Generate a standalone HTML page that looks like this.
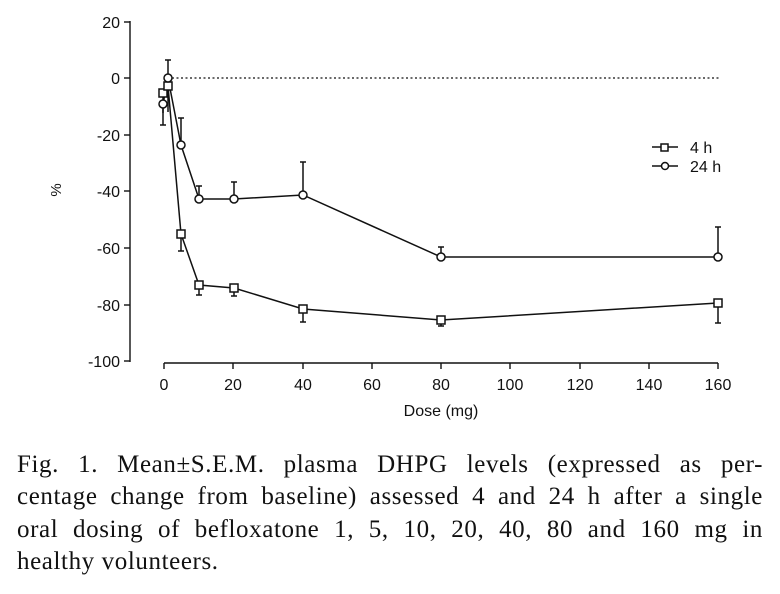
<!DOCTYPE html>
<html><head><meta charset="utf-8"><style>
body{margin:0;background:#fff;width:780px;height:594px;overflow:hidden;position:relative}
.cap{position:absolute;left:17px;width:746px;font-family:"Liberation Serif",serif;font-size:25px;letter-spacing:0.6px;color:#111}
.cap div{height:32.3px;line-height:32.3px;text-align:justify;text-align-last:justify;white-space:nowrap}
.cap div.l{text-align-last:left}
</style></head><body>
<svg width="780" height="440" style="position:absolute;left:0;top:0" font-family="Liberation Sans, sans-serif" fill="none" stroke="#111">
<g stroke-width="1.4">
<line x1="130" y1="21" x2="130" y2="362"/>
<g>
<line x1="124" y1="22" x2="130" y2="22"/><line x1="124" y1="78" x2="130" y2="78"/>
<line x1="124" y1="135" x2="130" y2="135"/><line x1="124" y1="191" x2="130" y2="191"/>
<line x1="124" y1="248" x2="130" y2="248"/><line x1="124" y1="305" x2="130" y2="305"/>
<line x1="124" y1="361" x2="130" y2="361"/>
</g>
<line x1="164" y1="363" x2="718" y2="363"/>
<g>
<line x1="164" y1="363" x2="164" y2="369"/><line x1="233" y1="363" x2="233" y2="369"/>
<line x1="303" y1="363" x2="303" y2="369"/><line x1="372" y1="363" x2="372" y2="369"/>
<line x1="441" y1="363" x2="441" y2="369"/><line x1="510" y1="363" x2="510" y2="369"/>
<line x1="580" y1="363" x2="580" y2="369"/><line x1="649" y1="363" x2="649" y2="369"/>
<line x1="718" y1="363" x2="718" y2="369"/>
</g>
</g>
<line x1="172" y1="78" x2="720" y2="78" stroke-dasharray="2,2.5" stroke-width="1.3"/>
<g fill="#111" stroke="none" font-size="16" text-anchor="end">
<text x="120" y="28">20</text><text x="120" y="84">0</text><text x="120" y="141">-20</text>
<text x="120" y="197">-40</text><text x="120" y="254">-60</text><text x="120" y="311">-80</text>
<text x="120" y="367">-100</text>
</g>
<g fill="#111" stroke="none" font-size="16" text-anchor="middle">
<text x="164" y="390">0</text><text x="233" y="390">20</text><text x="303" y="390">40</text>
<text x="372" y="390">60</text><text x="441" y="390">80</text><text x="510" y="390">100</text>
<text x="580" y="390">120</text><text x="649" y="390">140</text><text x="718" y="390">160</text>
<text x="441" y="416">Dose (mg)</text>
<text x="61" y="190" transform="rotate(-90 61 190)" font-size="15">%</text>
<text x="690" y="153" text-anchor="start">4 h</text>
<text x="690" y="172" text-anchor="start">24 h</text>
</g>
<g stroke-width="1.5">
<path d="M163 104V125M160 125h6M168 78V60M165 60h6M181 145V118M178 118h6M199 199V186M196 186h6M234 199V182M231 182h6M303 195V162M300 162h6M441 257V247M438 247h6M718 257V227M715 227h6"/>
<path d="M163 93V113M168 86V112M181 234V251M178 251h6M199 285V295M196 295h6M234 288V296M231 296h6M303 309V322M300 322h6M441 320V326M438 326h6M718 303V323M715 323h6"/>
<polyline points="163,93 168,86 181,234 199,285 234,288 303,309 441,320 718,303"/>
<polyline points="163,104 168,78 181,145 199,199 234,199 303,195 441,257 718,257"/>
<g fill="#fff">
<rect x="159" y="89" width="8" height="8"/><rect x="164" y="82" width="8" height="8"/>
<rect x="177" y="230" width="8" height="8"/><rect x="195" y="281" width="8" height="8"/>
<rect x="230" y="284" width="8" height="8"/><rect x="299" y="305" width="8" height="8"/>
<rect x="437" y="316" width="8" height="8"/><rect x="714" y="299" width="8" height="8"/>
<circle cx="163" cy="104" r="4"/><circle cx="168" cy="78" r="4"/><circle cx="181" cy="145" r="4"/>
<circle cx="199" cy="199" r="4"/><circle cx="234" cy="199" r="4"/><circle cx="303" cy="195" r="4"/>
<circle cx="441" cy="257" r="4"/><circle cx="718" cy="257" r="4"/>
</g>
<line x1="652" y1="147" x2="678" y2="147"/><rect x="661" y="144" width="7" height="7" fill="#fff"/>
<line x1="652" y1="166" x2="678" y2="166"/><circle cx="665" cy="166" r="3.5" fill="#fff"/>
</g>
</svg>
<div class="cap" style="top:449px">
<div>Fig. 1. Mean±S.E.M. plasma DHPG levels (expressed as per-</div>
<div>centage change from baseline) assessed 4 and 24 h after a single</div>
<div>oral dosing of befloxatone 1, 5, 10, 20, 40, 80 and 160 mg in</div>
<div class="l">healthy volunteers.</div>
</div>
</body></html>
